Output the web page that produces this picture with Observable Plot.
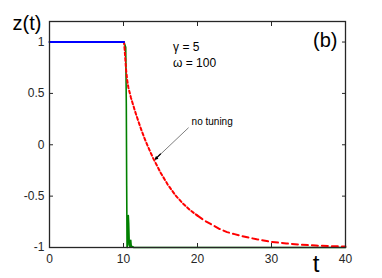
<!DOCTYPE html>
<html>
<head>
<meta charset="utf-8">
<script src="https://cdn.jsdelivr.net/npm/d3@7"></script>
<script src="https://cdn.jsdelivr.net/npm/@observablehq/plot@0.6"></script>
<style>
  html, body { margin: 0; padding: 0; background: #fff; }
  #chart svg { display: block; }
</style>
</head>
<body>
<div id="chart"></div>
<script>
// Tick values
const xTicks = [0, 10, 20, 30, 40];
const yTicks = [-1, -0.5, 0, 0.5, 1];

// Blue: before the switch
const blueT = [0, 10.07];
const blueZ = [1, 1];

// Green: with tuning
const greenT = [0, 10.05, 10.3, 10.38, 10.43, 10.48, 10.55, 10.6, 10.65, 10.7, 10.78, 10.86, 10.92, 10.98, 11.05, 11.2, 11.4, 40];
const greenZ = [1, 1, 0.95, 0.4, -0.4, -1, -0.98, -0.75, -0.69, -0.76, -0.97, -0.99, -0.95, -0.93, -0.99, -0.99, -1, -1];

// Red dashed: no tuning
const redT = [10.0, 10.07, 10.15, 10.25, 10.35, 10.5, 10.65, 11, 11.5, 12, 12.5, 13, 13.5, 14, 14.5, 15, 16, 17, 18, 19, 20, 21, 22, 23, 24, 25, 26, 28, 30, 32, 34, 36, 38, 40];
const redZ = [1, 1, 0.93, 0.83, 0.73, 0.63, 0.56, 0.46, 0.34, 0.23, 0.127, 0.034, -0.05, -0.13, -0.2, -0.27, -0.39, -0.49, -0.57, -0.636, -0.69, -0.74, -0.78, -0.82, -0.85, -0.87, -0.89, -0.92, -0.946, -0.96, -0.973, -0.981, -0.987, -0.99];

// Annotation texts
const paramLines = ["\u03b3 = 5", "\u03c9 = 100"];
const arrowLabel = "no tuning";
const panelLabel = "(b)";
const yLabel = "z(t)";
const xLabel = "t";

const blue = blueT.map((t, i) => ({t, z: blueZ[i]}));
const green = greenT.map((t, i) => ({t, z: greenZ[i]}));
const red = redT.map((t, i) => ({t, z: redZ[i]}));

const axisColor = "#262626";
const font = "Liberation Sans, Arial, Helvetica, sans-serif";

const chart = Plot.plot({
  width: 382,
  height: 278,
  marginLeft: 49,
  marginRight: 37,
  marginTop: 21,
  marginBottom: 31,
  style: {fontFamily: font, fontSize: "12px", color: axisColor, background: "#fff"},
  x: {domain: [0, 40]},
  y: {domain: [-1, 1.2]},
  marks: [
    Plot.axisX(xTicks, {anchor: "bottom", tickSize: -4, tickPadding: 11, label: null, stroke: axisColor, fill: axisColor, fontSize: 12}),
    Plot.axisX(xTicks, {anchor: "top", tickSize: -4, tickFormat: () => "", label: null, stroke: axisColor}),
    Plot.axisY(yTicks, {anchor: "left", tickSize: -4, tickPadding: 9, label: null, stroke: axisColor, fill: axisColor, fontSize: 12, tickFormat: d => String(d)}),
    Plot.axisY(yTicks, {anchor: "right", tickSize: -4, tickFormat: () => "", label: null, stroke: axisColor}),
    Plot.line(green, {x: "t", y: "z", stroke: "#008000", strokeWidth: 1.6}),
    Plot.line(red, {filter: d => d.t <= 20, x: "t", y: "z", stroke: "#ff0000", strokeWidth: 2, strokeDasharray: "3,2.5"}),
    Plot.line(red, {filter: d => d.t >= 20, x: "t", y: "z", stroke: "#ff0000", strokeWidth: 2, strokeDasharray: "6,4"}),
    Plot.line(blue, {x: "t", y: "z", stroke: "#0000ff", strokeWidth: 2}),
    Plot.frame({stroke: axisColor, strokeWidth: 1.3}),
    Plot.text([paramLines[0]], {x: 16.7, y: 0.95, text: d => d, textAnchor: "start", fontSize: 12, fill: "#000"}),
    Plot.text([paramLines[1]], {x: 16.7, y: 0.79, text: d => d, textAnchor: "start", fontSize: 12, fill: "#000"}),
    Plot.text([arrowLabel], {x: 19.2, y: 0.22, text: d => d, textAnchor: "start", fontSize: 10, fill: "#000"}),
    Plot.arrow([0], {x1: 18.76, y1: 0.164, x2: 14.3, y2: -0.14, stroke: "#808080", strokeWidth: 1, headLength: 0}),
    Plot.arrow([0], {x1: 15.0, y1: -0.09, x2: 14.3, y2: -0.14, stroke: "#000", strokeWidth: 1.2, headLength: 8, headAngle: 50}),
    Plot.text([panelLabel], {frameAnchor: "top-right", dx: -8, dy: 19, text: d => d, textAnchor: "end", lineAnchor: "middle", fontSize: 20, fill: "#000"}),
    Plot.text([yLabel], {frameAnchor: "top-left", dx: -37, dy: 2, text: d => d, textAnchor: "start", lineAnchor: "middle", fontSize: 20, fill: "#000"}),
    Plot.text([xLabel], {frameAnchor: "bottom-right", dx: -29.5, dy: 17, text: d => d, textAnchor: "middle", lineAnchor: "middle", fontSize: 24, fill: "#000"})
  ]
});
document.getElementById("chart").appendChild(chart);
</script>
</body>
</html>
